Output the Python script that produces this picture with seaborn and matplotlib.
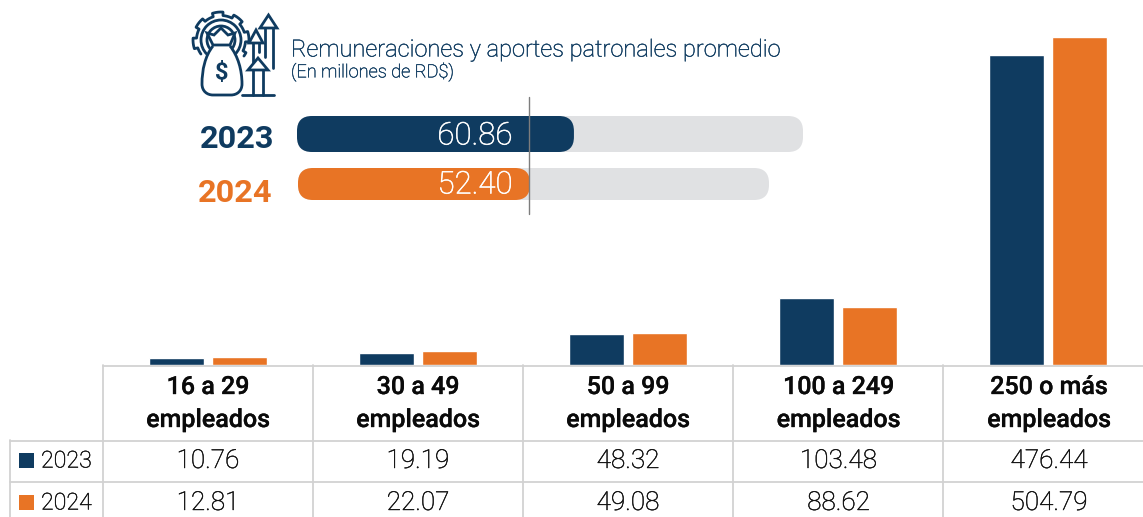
import numpy as np
import pandas as pd
import seaborn as sns
import matplotlib.pyplot as plt
import matplotlib.patheffects as pe
from matplotlib.patches import FancyBboxPatch, Circle, Polygon, PathPatch
from matplotlib.path import Path

sns.set_theme(style='white')
plt.rcParams['font.family'] = ['Roboto', 'DejaVu Sans']

W, H = 1143, 517
NAVY = '#0f3b60'
ORANGE = '#e87425'
TRACK = '#e0e1e3'
GRID = '#d2d2d2'
TEXT = '#111111'

# data
categories = ['16 a 29\nempleados', '30 a 49\nempleados', '50 a 99\nempleados',
              '100 a 249\nempleados', '250 o más\nempleados']
years = ['2023', '2024']
values_2023 = [10.76, 19.19, 48.32, 103.48, 476.44]
values_2024 = [12.81, 22.07, 49.08, 88.62, 504.79]
avg_values = [60.86, 52.40]
avg_tracks = [111.2, 106.4]
title = 'Remuneraciones y aportes patronales promedio'
subtitle = '(En millones de RD$)'


def px_axes(fig, left, top, right, bottom):
    return fig.add_axes([left / W, 1 - bottom / H, (right - left) / W, (bottom - top) / H])


def gauge(fig, box, value, track, color):
    ax = px_axes(fig, *box)
    sns.barplot(x=[track], y=[''], color=TRACK, width=1, saturation=1, ax=ax, orient='h')
    sns.barplot(x=[value], y=[''], color=color, width=1, saturation=1, ax=ax, orient='h')
    ax.set_xlim(0, track)
    ax.set_ylim(0.5, -0.5)
    px_x = track / (box[2] - box[0])
    px_y = 1 / (box[3] - box[1])
    r = 15
    for p in list(ax.patches):
        x, y, w, h = p.get_x(), p.get_y(), p.get_width(), p.get_height()
        ax.add_patch(FancyBboxPatch((x + r * px_x, y + r * px_y), w - 2 * r * px_x, h - 2 * r * px_y,
                                    boxstyle=f'round,pad={r * px_x},rounding_size={r * px_x}',
                                    mutation_aspect=px_y / px_x, fc=p.get_facecolor(), ec='none',
                                    clip_on=False))
        p.remove()
    ax.axis('off')
    return ax


def thick(t, color, w=0.3):
    # Light weight renders too thin here
    t.set_path_effects([pe.withStroke(linewidth=w, foreground=color)])
    return t


fig = plt.figure(figsize=(W / 100, H / 100), dpi=100, facecolor='white')

# bar chart
df = pd.DataFrame({'cat': categories * 2,
                   'year': [years[0]] * 5 + [years[1]] * 5,
                   'value': values_2023 + values_2024})
ax = px_axes(fig, 103, 0, W, 365)
sns.barplot(data=df, x='cat', y='value', hue='year', palette=[NAVY, ORANGE], width=0.605, gap=0.13,
            saturation=1, legend=False, ax=ax)
ax.set_xlim(-0.5, 4.452)
ax.set_ylim(0, 365 / 0.65)
ax.axis('off')

# gauges
gauge(fig, (297, 116, 803, 152), avg_values[0], avg_tracks[0], NAVY)
gauge(fig, (298, 168, 769, 200), avg_values[1], avg_tracks[1], ORANGE)

# overlay in pixel coordinates for table, labels, icon
ov = fig.add_axes([0, 0, 1, 1], zorder=5)
ov.set_xlim(0, W)
ov.set_ylim(H, 0)
ov.axis('off')
ov.patch.set_alpha(0)

ov.plot([529, 529], [97, 214], color='#7d7d7d', lw=1)
for yy, val in zip((136, 185), avg_values):
    thick(ov.text(512.5, yy, f'{val:.2f}', color='white', fontsize=22.5, fontweight='light',
                  ha='right', va='center'), 'white', 0.4)
ov.text(237, 138.5, years[0], color=NAVY, fontsize=23.4, fontweight='bold', ha='center', va='center')
ov.text(235, 193.5, years[1], color=ORANGE, fontsize=23.4, fontweight='bold', ha='center', va='center')
thick(ov.text(291, 50, title, color=NAVY, fontsize=17, fontweight='light', ha='left', va='center'), NAVY)
thick(ov.text(291, 72, subtitle, color=NAVY, fontsize=13.1, fontweight='light', ha='left', va='center'), NAVY)

# table grid
xs = [103, 313, 523, 733, 943]
ov.plot([103, W], [365.5, 365.5], color=GRID, lw=1.3)
for yy in (440.5, 481.5):
    ov.plot([10, W], [yy, yy], color=GRID, lw=1.3)
ov.plot([10, 10], [440, H], color=GRID, lw=1.3)
for xx in xs:
    ov.plot([xx, xx], [365, H], color=GRID, lw=1.3)

centers = [208, 418, 628, 838.5, 1049]
for c, label, a, b in zip(centers, categories, values_2023, values_2024):
    l1, l2 = label.split('\n')
    for yy, s in ((387, l1), (420, l2)):
        thick(ov.text(c, yy, s, ha='center', va='center', fontsize=18, fontweight='medium', color='#0a0a0a'),
              '#0a0a0a', 0.25)
    thick(ov.text(c, 461, f'{a:.2f}', ha='center', va='center', fontsize=18.8, fontweight='light', color=TEXT), TEXT)
    thick(ov.text(c, 503, f'{b:.2f}', ha='center', va='center', fontsize=18.8, fontweight='light', color=TEXT), TEXT)

for yy, col, yr in zip((460, 502), (NAVY, ORANGE), years):
    ov.add_patch(plt.Rectangle((19, yy - 7.5), 15, 15, fc=col, ec='none'))
    thick(ov.text(41, yy + 1, yr, ha='left', va='center', fontsize=16.7, fontweight='light', color=TEXT), TEXT)

# icon
lw = 2


def stroke(pts, **kw):
    a = np.array(pts, dtype=float)
    ov.plot(a[:, 0], a[:, 1], color=NAVY, lw=lw, solid_capstyle='round', solid_joinstyle='round', **kw)


# gear outline, open towards the bag and the arrows
gc = (221, 40)
ang = np.linspace(np.radians(-35), np.radians(215), 400)
rad = 24.5 + 3.5 * (np.sign(np.sin(ang * 8 + 0.6)) + 1) / 2
stroke(np.c_[gc[0] + rad * np.cos(ang), gc[1] - rad * np.sin(ang)])
ov.add_patch(Circle(gc, 20, fc='none', ec=NAVY, lw=lw))
ov.add_patch(Circle(gc, 14, fc='none', ec=NAVY, lw=lw))
# bag
bag = Path([(213, 46), (205, 56), (202, 70), (202, 84), (202, 91), (207, 95), (213, 95),
            (231, 95), (237, 95), (242, 91), (242, 84), (242, 70), (238, 56), (230, 46)],
           [1, 4, 4, 4, 4, 4, 4, 2, 4, 4, 4, 4, 4, 4])
ov.add_patch(PathPatch(bag, fc='white', ec=NAVY, lw=lw, zorder=3))
ov.add_patch(Polygon([(207, 33), (214, 35), (221, 28), (228, 35), (235, 33), (230, 45), (213, 45)],
                     fc='white', ec=NAVY, lw=lw, zorder=3))
ov.text(221.5, 72, '$', fontsize=17, fontweight='bold', color=NAVY, ha='center', va='center', zorder=4)
# arrows
for x0, top, base, bot_l, bot_r, hw, sw in [(268.5, 15, 28, 57, 68, 8.5, 4),
                                             (256, 30, 43, 62, 52, 7, 3),
                                             (258, 58, 70, 95, 95, 10, 5)]:
    stroke([(x0 - sw, base), (x0 - sw, bot_l)], zorder=4)
    stroke([(x0 + sw, base), (x0 + sw, bot_r)], zorder=4)
    ov.add_patch(Polygon([(x0 - hw, base), (x0, top), (x0 + hw, base)], fc='white', ec=NAVY, lw=lw, zorder=4))
stroke([(242, 95), (274, 95)], zorder=4)

fig.savefig('out.png', dpi=100)
